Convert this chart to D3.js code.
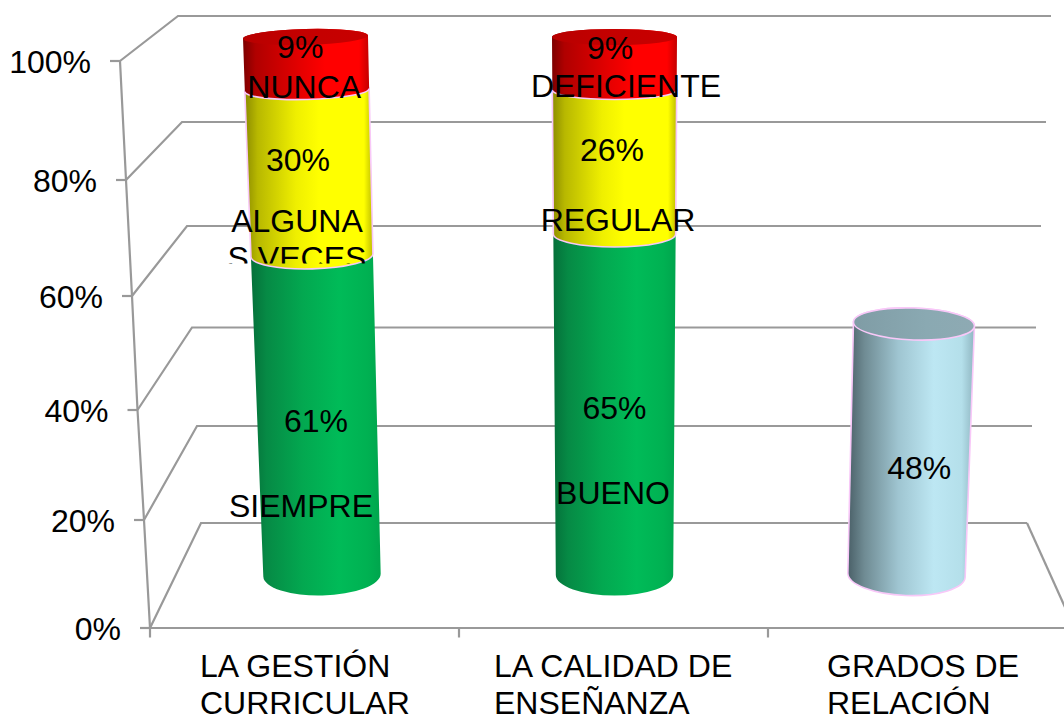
<!DOCTYPE html>
<html><head><meta charset="utf-8">
<script src="https://cdn.jsdelivr.net/npm/d3@7"></script>
<style>html,body{margin:0;padding:0;background:#fff;overflow:hidden}svg{display:block}text{font-family:"Liberation Sans",Arial,sans-serif;fill:#000}</style>
</head><body><svg id="c" width="1064" height="715"></svg>
<script>
// ---- data ----
const categoryLines = [["LA GESTIÓN","CURRICULAR"],["LA CALIDAD DE","ENSEÑANZA"],["GRADOS DE","RELACIÓN"]];
const yTicks = [0,20,40,60,80,100];
const lowerValues  = [61,65,48];
const middleValues = [30,26,0];
const upperValues  = [9,9,0];
const lowerNames  = [["SIEMPRE"],["BUENO"],[]];
const middleNames = [["ALGUNA","S VECES"],["REGULAR"],[]];
const upperNames  = [["NUNCA"],["DEFICIENTE"],[]];

// ---- layout (perspective of the 3-D frame) ----
const W=1064,H=715, FS=32, GRID="#999";
const frontY = d3.scaleLinear().domain(yTicks).range([628,520,410,296,180,61]);
const frontX = d3.scaleLinear().domain(yTicks).range([150,144,137.5,132,126,120]);
const backY  = d3.scaleLinear().domain(yTicks).range([523,426,327.5,226,122,16]);
const backX  = d3.scaleLinear().domain(yTicks).range([201,197,192,187,182,178]);
const backRX = d3.scaleLinear().domain(yTicks).range([1027,1032,1036,1041,1046,1051]);
// cylinder projection: value -> axis centre, radii
const cylKnots=[0,48,65,91,100];
const cylY  = d3.scaleLinear().domain(cylKnots).range([575,324,234,90,37]);
const cylRy = d3.scaleLinear().domain(cylKnots).range([20.5,16,13,9.5,8]);
const cylRx = d3.scaleLinear().domain([0,100]).range([58.7,62.5]);
const cylX  = [[322,305.5],[614.5,614.5],[906.5,922]].map(r=>d3.scaleLinear().domain([0,100]).range(r));
const tilt  = [-1.5,0,2];
const edgeX = d3.scaleLinear().domain([0,3]).range([150,1077]);

const svg=d3.select("#c");
const defs=svg.append("defs");
function grad(id,stops){
  defs.append("linearGradient").attr("id",id).attr("x1",0).attr("x2",1).attr("y1",0).attr("y2",0)
    .selectAll("stop").data(stops).join("stop").attr("offset",d=>d[0]).attr("stop-color",d=>d[1]);
}
grad("g-green",[[0,"#05703a"],[.12,"#068a45"],[.4,"#03a850"],[.68,"#00bb58"],[.9,"#00b152"],[1,"#00a54d"]]);
grad("g-yellow",[[0,"#8c8c00"],[.1,"#b8b800"],[.4,"#efef00"],[.58,"#ffff00"],[.93,"#ffff00"],[1,"#bdbd00"]]);
grad("g-red",[[0,"#7d0000"],[.1,"#b00000"],[.45,"#e40000"],[.65,"#ff0000"],[.92,"#ff0000"],[1,"#c40000"]]);
grad("g-blue",[[0,"#4a6068"],[.13,"#6f8b93"],[.4,"#9fc5d1"],[.68,"#bde7f3"],[.9,"#b4dfea"],[1,"#8fb6c1"]]);
grad("g-redcap",[[0,"#b80000"],[.5,"#c40000"],[1,"#c80000"]]);
grad("g-bluecap",[[0,"#7f9ca5"],[.6,"#8aa9b2"],[1,"#8eaab3"]]);
defs.append("clipPath").attr("id","clipLabel").append("rect").attr("x",200).attr("y",200).attr("width",200).attr("height",63.5);

// ---- frame ----
const frame=svg.append("g").attr("fill","none").attr("stroke",GRID).attr("stroke-width",2.2);
frame.selectAll("path.grid").data(yTicks).join("path").attr("class","grid")
  .attr("d",t=>d3.line()([[frontX(t),frontY(t)],[backX(t),backY(t)],[backRX(t),backY(t)]]));
frame.append("path").attr("d",d3.line()(yTicks.map(t=>[frontX(t),frontY(t)])));
frame.selectAll("line.tick").data(yTicks).join("line").attr("class","tick")
  .attr("x1",t=>frontX(t)-10).attr("x2",t=>frontX(t)).attr("y1",t=>frontY(t)).attr("y2",t=>frontY(t));
frame.append("line").attr("x1",backRX(0)).attr("y1",backY(0)).attr("x2",backRX(0)+46).attr("y2",backY(0)+102);

const xAxis=d3.axisBottom(edgeX).tickValues([0,1,2,3]).tickFormat("").tickSize(10).tickSizeOuter(0);
const gx=svg.append("g").attr("transform","translate(-0.5,627.5)").call(xAxis);
gx.selectAll("path,line").attr("stroke",GRID).attr("stroke-width",2.2);

// ---- y labels ----
svg.selectAll("text.yl").data(yTicks).join("text").attr("class","yl")
  .attr("x",t=>frontX(t)-29).attr("y",t=>frontY(t)+12).attr("text-anchor","end")
  .attr("font-size",FS).text(t=>t+"%");

// ---- cylinders ----
function pts(c,v){
  const a=tilt[c]*Math.PI/180, rx=cylRx(v), x=cylX[c](v), y=cylY(v);
  return {rx,ry:cylRy(v),rot:tilt[c],
    lx:x-rx*Math.cos(a),ly:y-rx*Math.sin(a),rxp:x+rx*Math.cos(a),ryp:y+rx*Math.sin(a)};
}
function sidePath(c,v0,v1){
  const b=pts(c,v0),t=pts(c,v1);
  return `M${b.lx},${b.ly}A${b.rx},${b.ry} ${b.rot} 0 0 ${b.rxp},${b.ryp}L${t.rxp},${t.ryp}A${t.rx},${t.ry} ${t.rot} 0 0 ${t.lx},${t.ly}Z`;
}
function frontArc(c,v){
  const b=pts(c,v);
  return `M${b.lx},${b.ly}A${b.rx},${b.ry} ${b.rot} 0 0 ${b.rxp},${b.ryp}`;
}
function capPath(c,v){
  const t=pts(c,v);
  return `M${t.lx},${t.ly}A${t.rx},${t.ry} ${t.rot} 0 0 ${t.rxp},${t.ryp}A${t.rx},${t.ry} ${t.rot} 0 0 ${t.lx},${t.ly}Z`;
}
const PINK="#f8c8f8", OW=1.6;
const cyl=svg.append("g");
categoryLines.forEach((_,c)=>{
  const a=lowerValues[c], b=a+middleValues[c], d=b+upperValues[c];
  const solo=middleValues[c]===0;
  const g=cyl.append("g");
  g.append("path").attr("d",sidePath(c,0,a)).attr("fill",solo?"url(#g-blue)":"url(#g-green)")
    .attr("stroke",solo?PINK:"none").attr("stroke-width",OW);
  if(solo){
    g.append("path").attr("d",capPath(c,a)).attr("fill","url(#g-bluecap)").attr("stroke",PINK).attr("stroke-width",OW);
    return;
  }
  g.append("path").attr("d",sidePath(c,a,b)).attr("fill","url(#g-yellow)").attr("stroke",PINK).attr("stroke-width",OW);
  g.append("path").attr("d",sidePath(c,b,d)).attr("fill","url(#g-red)");
  g.append("path").attr("d",frontArc(c,b)).attr("fill","none").attr("stroke",PINK).attr("stroke-width",OW);
  g.append("path").attr("d",capPath(c,d)).attr("fill","url(#g-redcap)");
});

// ---- value and series labels (offsets from each segment's mid-height anchor) ----
const lowerValOff=[[-1,16.5],[0,14],[9,29.5]];
const middleValOff=[[-11.5,-2],[-2.5,-1]];
const upperValOff=[[-6,-5.5],[-4.5,-4.5]];
const lowerNameOff=[[-16,101.5],[-1.5,99]];
const middleNameOff=[[-12.5,59],[3.5,69]];
const upperNameOff=[[-2,34.5],[11.5,33.5]];
const labels=svg.append("g").attr("font-size",FS).attr("text-anchor","middle");
function segLabels(values,base,names,valOff,nameOff){
  values.forEach((v,c)=>{
    if(!v) return;
    const mid=base(c)+v/2, x=cylX[c](mid), y=cylY(mid);
    labels.append("text").attr("x",x+valOff[c][0]).attr("y",y+valOff[c][1]).text(v+"%");
    (names[c]||[]).forEach((n,i)=>{
      const t=labels.append("text").attr("x",x+nameOff[c][0]).attr("y",y+nameOff[c][1]+i*37).text(n);
      if(names[c].length>1) t.attr("clip-path","url(#clipLabel)");
    });
  });
}
segLabels(lowerValues,()=>0,lowerNames,lowerValOff,lowerNameOff);
segLabels(middleValues,c=>lowerValues[c],middleNames,middleValOff,middleNameOff);
segLabels(upperValues,c=>lowerValues[c]+middleValues[c],upperNames,upperValOff,upperNameOff);

// ---- category labels ----
const catX=[200,494,827];
categoryLines.forEach((ls,c)=>{
  ls.forEach((l,i)=>svg.append("text").attr("x",catX[c]).attr("y",677+i*37).attr("font-size",FS).text(l));
});
</script></body></html>
